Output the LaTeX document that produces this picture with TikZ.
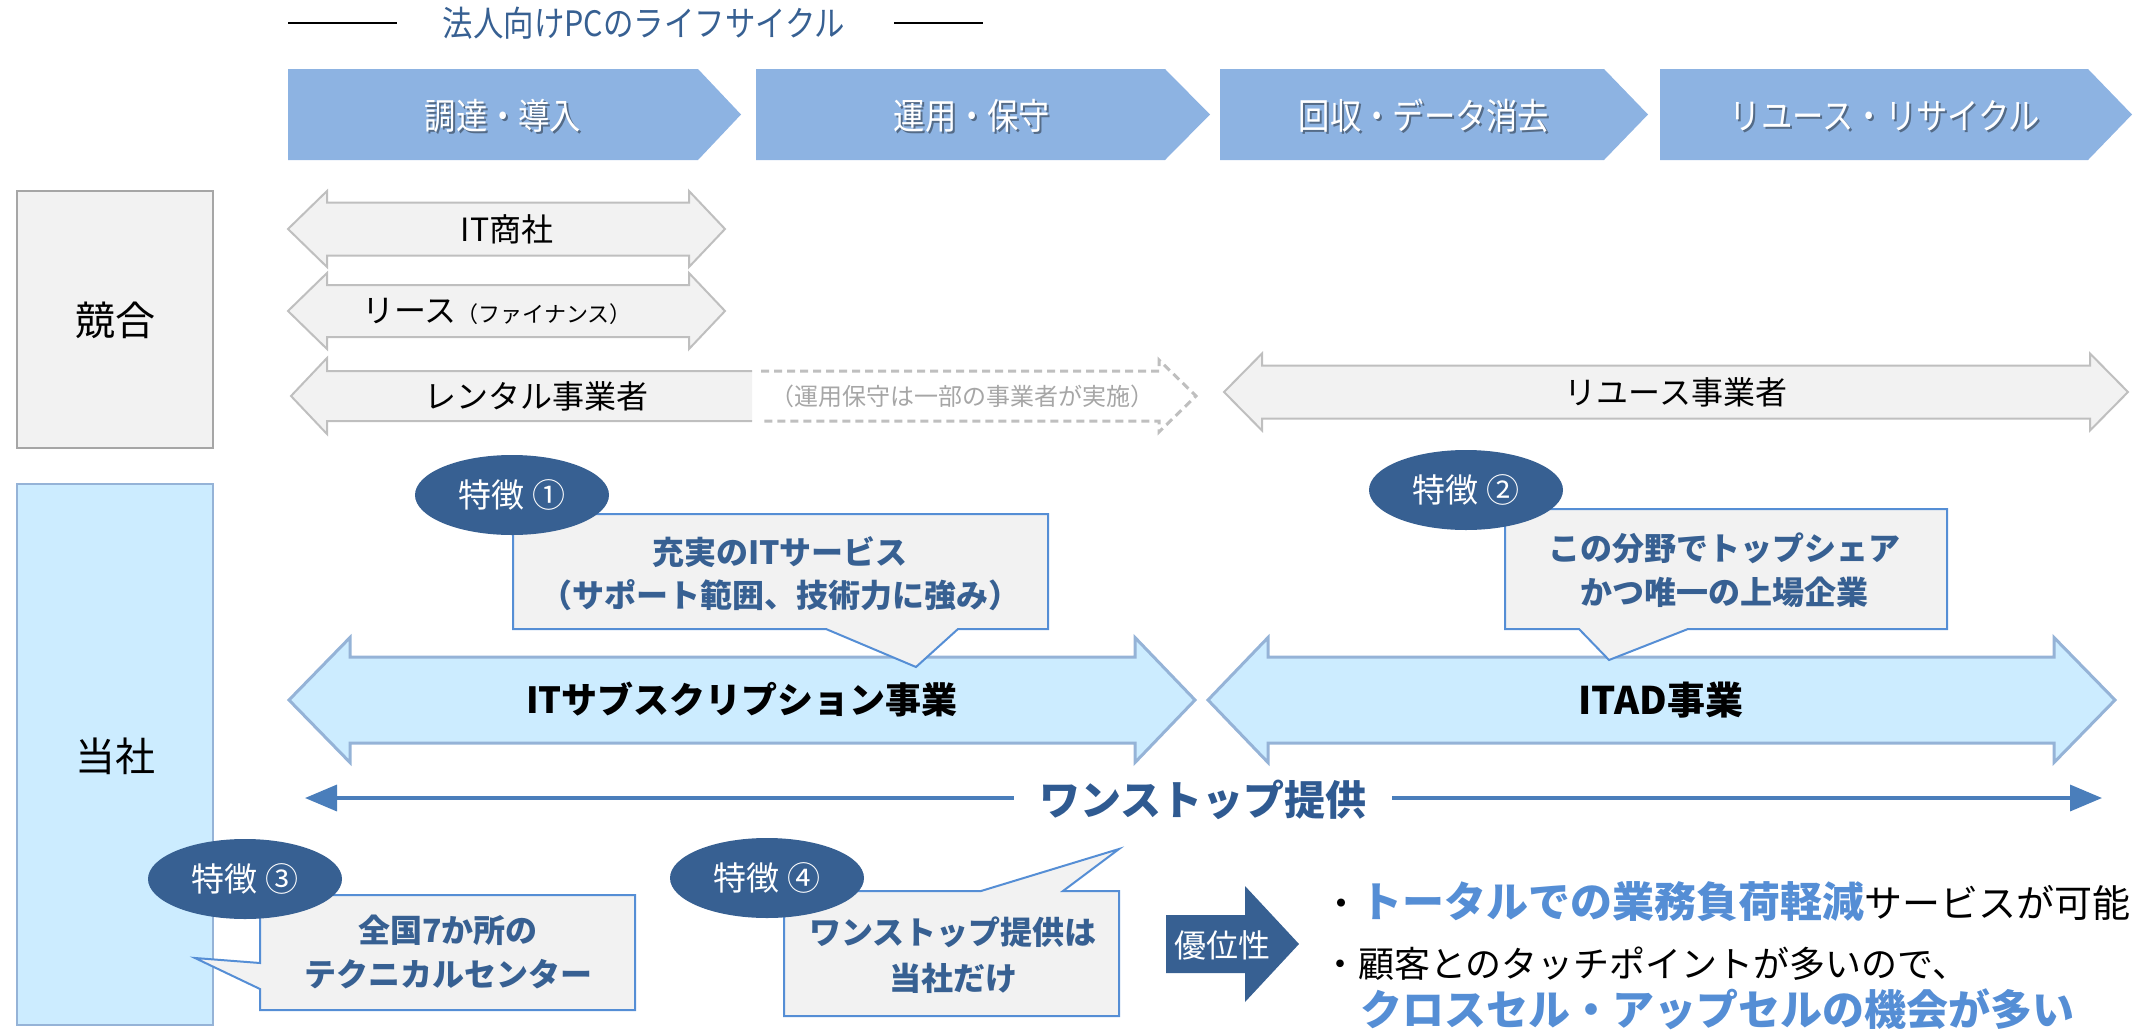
\documentclass[tikz,border=0pt]{standalone}
\usepackage{fontspec}
\setmainfont{Noto Sans CJK JP}
\newfontfamily\condfont{Noto Sans CJK JP}[FakeStretch=0.87]
\usetikzlibrary{arrows.meta,shapes.geometric}
\definecolor{chevc}{HTML}{8DB3E2}
\definecolor{grayfill}{HTML}{F2F2F2}
\definecolor{grayline}{HTML}{BFBFBF}
\definecolor{boxline}{HTML}{A6A6A6}
\definecolor{lightblue}{HTML}{CCECFF}
\definecolor{lbline}{HTML}{95B3D7}
\definecolor{darkblue}{HTML}{376092}
\definecolor{calline}{HTML}{558ED5}
\definecolor{arrline}{HTML}{4A7EBB}
\definecolor{bluetext}{HTML}{558ED5}
\definecolor{notegray}{HTML}{A6A6A6}
\definecolor{stoptext}{HTML}{2F5A91}
\newcommand\fsz[2]{\fontsize{#1}{#2}\selectfont}
\tikzset{
  chevshape/.style={fill=chevc, draw=none},
  chevlabel/.style={text=white, font=\condfont\fsz{36}{42}, inner sep=0pt},
  chevshadow/.style={text=black, opacity=0.4, font=\condfont\fsz{36}{42}, inner sep=0pt},
  sidebox/.style={line width=2.5pt},
  grayarrow/.style={fill=grayfill, draw=grayline, line width=2pt, line join=miter},
  bluearrow/.style={fill=lightblue, draw=lbline, line width=3pt, line join=miter},
  calloutshape/.style={fill=grayfill, draw=calline, line width=2pt, line join=miter},
  callouttext/.style={text=darkblue, font=\fsz{32}{44}\bfseries, align=center, inner sep=0pt},
  badge/.style={ellipse, fill=darkblue, draw=none, text=white, minimum width=194pt, minimum height=80pt, inner sep=0pt, font=\fsz{33}{38}},
  plainlabel/.style={text=black, font=\fsz{32}{38}, inner sep=0pt},
  onestop/.style={draw=arrline, line width=3.5pt, -{Triangle[length=32pt,width=26pt]}},
}
\begin{document}
\begin{tikzpicture}[x=1pt,y=-1pt]
\useasboundingbox (0,0) rectangle (2147,1031);

% ---------- title ----------
\node[text=darkblue, font=\condfont\fsz{35}{40}, inner sep=0pt] (title) at (644,23) {法人向けPCのライフサイクル};
\coordinate (tl1) at (288,23); \coordinate (tl2) at (397,23);
\coordinate (tr1) at (894,23); \coordinate (tr2) at (983,23);
\draw[line width=2pt] (tl1) -- (tl2);
\draw[line width=2pt] (tr1) -- (tr2);

% ---------- chevrons ----------
\fill[chevshape] (288,69) -- (698,69) -- (741,114.5) -- (698,160) -- (288,160) -- cycle;
\fill[chevshape] (756,69) -- (1165,69) -- (1210,114.5) -- (1165,160) -- (756,160) -- cycle;
\fill[chevshape] (1220,69) -- (1604,69) -- (1648,114.5) -- (1604,160) -- (1220,160) -- cycle;
\fill[chevshape] (1660,69) -- (2088,69) -- (2132,114.5) -- (2088,160) -- (1660,160) -- cycle;
\node[chevshadow] (ch1s) at (505,118) {調達・導入};
\node[chevlabel] (ch1) at (503,116) {調達・導入};
\node[chevshadow] (ch2s) at (974,118) {運用・保守};
\node[chevlabel] (ch2) at (972,116) {運用・保守};
\node[chevshadow] (ch3s) at (1426,118) {回収・データ消去};
\node[chevlabel] (ch3) at (1424,116) {回収・データ消去};
\node[chevshadow] (ch4s) at (1887,118) {リユース・リサイクル};
\node[chevlabel] (ch4) at (1885,116) {リユース・リサイクル};

% ---------- side boxes ----------
\draw[sidebox, fill=grayfill, draw=boxline] (17,191) rectangle (213,448);
\node[plainlabel, font=\fsz{40}{46}] (kyogo) at (115,320) {競合};
\draw[sidebox, fill=lightblue, draw=lbline] (17,484) rectangle (213,1025);
\node[plainlabel, font=\fsz{40}{46}] (tosha) at (115,756) {当社};

% ---------- competitor arrows ----------
\draw[grayarrow] (288,229) -- (327,191) -- (327,202.5) -- (689,202.5) -- (689,191) -- (725,229)
  -- (689,267) -- (689,255.5) -- (327,255.5) -- (327,267) -- cycle;
\node[plainlabel] (itshosha) at (507,229) {IT商社};

\draw[grayarrow] (288,311) -- (327,273) -- (327,285) -- (689,285) -- (689,273) -- (725,311)
  -- (689,349) -- (689,337) -- (327,337) -- (327,349) -- cycle;
\node[plainlabel] (lease) at (497,311) {リース\fsz{22}{26}（ファイナンス）};

\fill[grayfill] (752,371) -- (327,371) -- (327,358) -- (291,396) -- (327,434) -- (327,421) -- (752,421) -- cycle;
\draw[draw=grayline, line width=2pt, line join=miter] (752,371) -- (327,371) -- (327,358) -- (291,396) -- (327,434) -- (327,421) -- (752,421);
\draw[draw=grayline, line width=3pt, dash pattern=on 8pt off 5pt] (761,371) -- (1159,371) -- (1159,360) -- (1196,396) -- (1159,432) -- (1159,421) -- (761,421);
\node[plainlabel] (rental) at (536,396) {レンタル事業者};
\node[plainlabel, text=notegray, font=\fsz{24}{28}] (rentalnote) at (962,396) {（運用保守は一部の事業者が実施）};

\draw[grayarrow] (1224,392) -- (1262,353.5) -- (1262,365.5) -- (2090,365.5) -- (2090,353.5) -- (2128,392)
  -- (2090,430.5) -- (2090,418.5) -- (1262,418.5) -- (1262,430.5) -- cycle;
\node[plainlabel] (reuse) at (1676,392) {リユース事業者};

% ---------- business arrows ----------
\draw[bluearrow] (289,700) -- (350,637.5) -- (350,657) -- (1135,657) -- (1135,637.5) -- (1195,700)
  -- (1135,762.5) -- (1135,743) -- (350,743) -- (350,762.5) -- cycle;
\node[plainlabel, font=\fsz{36}{42}\bfseries] (itsub) at (742,700) {ITサブスクリプション事業};

\draw[bluearrow] (1208,700) -- (1268,637.5) -- (1268,657) -- (2054,657) -- (2054,637.5) -- (2115,700)
  -- (2054,762.5) -- (2054,743) -- (1268,743) -- (1268,762.5) -- cycle;
\node[plainlabel, font=\fsz{38}{44}\bfseries] (itad) at (1661,700) {ITAD事業};

% ---------- callouts ----------
\draw[calloutshape] (513,514) -- (1048,514) -- (1048,629) -- (958,629) -- (916,667) -- (826,629) -- (513,629) -- cycle;
\node[callouttext, font=\fsz{32}{43}\bfseries] (f1text) at (780,574) {充実のITサービス\\（サポート範囲、技術力に強み）};

\draw[calloutshape] (1505,509) -- (1947,509) -- (1947,629) -- (1688,629) -- (1609,660) -- (1579,629) -- (1505,629) -- cycle;
\node[callouttext] (f2text) at (1724,570) {この分野でトップシェア\\かつ唯一の上場企業};

\draw[calloutshape] (260,895) -- (635,895) -- (635,1010) -- (260,1010) -- (260,989) -- (195,958) -- (260,963) -- cycle;
\node[callouttext] (f3text) at (448,952) {全国7か所の\\テクニカルセンター};

\draw[calloutshape] (784,891) -- (981,891) -- (1119,849) -- (1063,891) -- (1119,891) -- (1119,1016) -- (784,1016) -- cycle;
\node[callouttext, font=\fsz{32}{46}\bfseries] (f4text) at (953,955) {ワンストップ提供は\\当社だけ};

% ---------- badges ----------
\node[badge] (b1) at (512,495) {特徴 ①};
\node[badge] (b2) at (1466,490) {特徴 ②};
\node[badge] (b3) at (245,879) {特徴 ③};
\node[badge] (b4) at (767,878) {特徴 ④};

% ---------- one-stop arrow ----------
\node[text=stoptext, font=\fsz{41}{46}\bfseries, inner ysep=0pt, inner xsep=0pt, minimum width=378pt] (ws) at (1203,800) {ワンストップ提供};
\coordinate (wsL) at (305,798);
\coordinate (wsR) at (2102,798);
\draw[onestop] (ws.west |- wsL) -- (wsL);
\draw[onestop] (ws.east |- wsR) -- (wsR);

% ---------- advantage ----------
\fill[darkblue] (1166,915) -- (1245,915) -- (1245,886) -- (1299,944) -- (1245,1002) -- (1245,973) -- (1166,973) -- cycle;
\node[text=white, font=\fsz{32}{38}, inner sep=0pt] (yuisei) at (1222,945) {優位性};

\node[anchor=west, inner sep=0pt, font=\fsz{38}{44}] (adv1) at (1322,902)
  {・{\fsz{42}{48}\bfseries\color{bluetext}トータルでの業務負荷軽減}サービスが可能};
\node[anchor=west, inner sep=0pt, font=\fsz{36}{42}] (adv2) at (1322,964)
  {・顧客とのタッチポイントが多いので、};
\node[anchor=west, inner sep=0pt, font=\fsz{42}{48}\bfseries, text=bluetext] (adv3) at (1360,1009)
  {クロスセル・アップセルの機会が多い};
\end{tikzpicture}
\end{document}
